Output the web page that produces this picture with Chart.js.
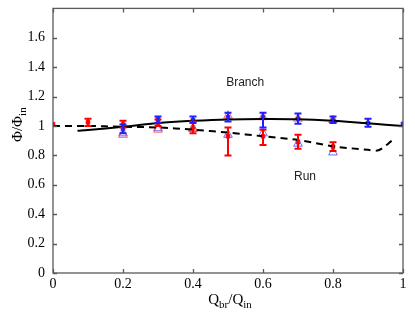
<!DOCTYPE html>
<html lang="en">
<head>
<meta charset="UTF-8">
<title>Flux ratio vs flow ratio</title>
<script src="https://cdn.jsdelivr.net/npm/chart.js@4.4.4/dist/chart.umd.min.js"></script>
<style>
  html, body { margin: 0; padding: 0; background: #fff; }
</style>
</head>
<body>
<canvas id="chart" width="415" height="315"></canvas>
<script>
// Model curves
const branchCurveX = [0.07, 0.1, 0.2, 0.3, 0.4, 0.5, 0.6, 0.7, 0.8, 0.9, 1.0];
const branchCurveY = [0.967, 0.972, 0.995, 1.02, 1.035, 1.045, 1.048, 1.046, 1.035, 1.018, 1.0];
const runCurveX = [0, 0.1, 0.2, 0.3, 0.4, 0.5, 0.6, 0.7, 0.8, 0.9, 0.93, 0.97];
const runCurveY = [1.0, 1.0, 0.995, 0.99, 0.975, 0.955, 0.93, 0.905, 0.862, 0.838, 0.835, 0.903];

// Branch measurements (blue, with error bars)
const branchExpX  = [0.2, 0.3, 0.4, 0.5, 0.6, 0.7, 0.8, 0.9, 1.0];
const branchExpY  = [0.98, 1.045, 1.04, 1.06, 1.06, 1.05, 1.045, 1.02, 1.015];
const branchExpLo = [0.95, 1.02, 1.02, 1.03, 0.99, 1.015, 1.02, 0.995, 1.015];
const branchExpHi = [1.01, 1.065, 1.065, 1.09, 1.09, 1.085, 1.065, 1.05, 1.015];

// Run measurements (red, with error bars)
const runExpX  = [0, 0.1, 0.2, 0.3, 0.4, 0.5, 0.6, 0.7, 0.8];
const runExpY  = [1.012, 1.025, 1.01, 1.02, 0.99, 0.93, 0.93, 0.89, 0.86];
const runExpLo = [1.012, 1.0, 0.99, 1.0, 0.95, 0.8, 0.87, 0.845, 0.83];
const runExpHi = [1.012, 1.05, 1.035, 1.045, 1.03, 0.99, 0.975, 0.94, 0.89];

// Simulations (open triangles)
const branchSimX = [0.2, 0.3, 0.4, 0.5, 0.6, 0.7, 0.8];
const branchSimY = [0.94, 0.975, 0.985, 1.07, 1.06, 1.05, 1.04];
const runSimX = [0.2, 0.3, 0.4, 0.5, 0.6, 0.7, 0.8];
const runSimY = [0.95, 0.985, 0.98, 0.94, 0.95, 0.88, 0.82];

const xTicks = [0, 0.2, 0.4, 0.6, 0.8, 1];
const yTicks = [0, 0.2, 0.4, 0.6, 0.8, 1, 1.2, 1.4, 1.6];

const RED = '#ff0000';
const BLUE = '#1f1fff';
const AXIS = '#5a5a5a';

function pts(xs, ys) {
    return xs.map((x, i) => ({ x: x, y: ys[i] }));
}

// error bars, drawn through the chart scales
const errorBars = {
    id: 'errorBars',
    afterDatasetsDraw(chart) {
        const { ctx, scales: { x, y } } = chart;
        const sets = [
            { xs: runExpX, lo: runExpLo, hi: runExpHi, color: RED },
            { xs: branchExpX, lo: branchExpLo, hi: branchExpHi, color: BLUE }
        ];
        ctx.save();
        ctx.lineWidth = 2;
        sets.forEach(s => {
            ctx.strokeStyle = s.color;
            s.xs.forEach((xv, i) => {
                if (s.lo[i] === s.hi[i]) return;
                const px = x.getPixelForValue(xv);
                const p1 = y.getPixelForValue(s.lo[i]);
                const p2 = y.getPixelForValue(s.hi[i]);
                ctx.beginPath();
                ctx.moveTo(px, p1); ctx.lineTo(px, p2);
                ctx.moveTo(px - 3.5, p1); ctx.lineTo(px + 3.5, p1);
                ctx.moveTo(px - 3.5, p2); ctx.lineTo(px + 3.5, p2);
                ctx.stroke();
            });
        });
        ctx.restore();
    }
};

// MATLAB-like box, inward ticks, labels and axis titles
const frame = {
    id: 'frame',
    afterDraw(chart) {
        const { ctx, chartArea: a, scales: { x, y } } = chart;
        ctx.save();
        ctx.strokeStyle = AXIS;
        ctx.lineWidth = 1.3;
        ctx.strokeRect(a.left, a.top, a.right - a.left, a.bottom - a.top);
        ctx.beginPath();
        xTicks.forEach(v => {
            const px = Math.round(x.getPixelForValue(v)) + 0.5;
            ctx.moveTo(px, a.bottom); ctx.lineTo(px, a.bottom - 4);
            ctx.moveTo(px, a.top); ctx.lineTo(px, a.top + 4);
        });
        yTicks.forEach(v => {
            const py = Math.round(y.getPixelForValue(v)) + 0.5;
            ctx.moveTo(a.left, py); ctx.lineTo(a.left + 4, py);
            ctx.moveTo(a.right, py); ctx.lineTo(a.right - 4, py);
        });
        ctx.stroke();

        // annotations
        ctx.fillStyle = '#222';
        ctx.font = '12px "Liberation Sans", Arial, sans-serif';
        ctx.textAlign = 'center';
        ctx.textBaseline = 'middle';
        ctx.fillText('Branch', x.getPixelForValue(0.549), y.getPixelForValue(1.294));
        ctx.fillText('Run', x.getPixelForValue(0.72), y.getPixelForValue(0.653));

        // x title  Q_br/Q_in
        ctx.fillStyle = '#000';
        ctx.textBaseline = 'alphabetic';
        ctx.textAlign = 'left';
        const big = '15px "Liberation Serif", "Times New Roman", serif';
        const sub = '11px "Liberation Serif", "Times New Roman", serif';
        const parts = [['Q', big, 0], ['br', sub, 4], ['/Q', big, 0], ['in', sub, 4]];
        let w = 0;
        parts.forEach(p => { ctx.font = p[1]; w += ctx.measureText(p[0]).width; });
        let cx = (a.left + a.right) / 2 - w / 2 + 2;
        const by = 304;
        parts.forEach(p => {
            ctx.font = p[1];
            ctx.fillText(p[0], cx, by + p[2]);
            cx += ctx.measureText(p[0]).width;
        });

        // y title  Φ/Φ_in
        ctx.translate(22, (a.top + a.bottom) / 2 - 16);
        ctx.rotate(-Math.PI / 2);
        const yparts = [['Φ/Φ', big, 0], ['in', sub, 4]];
        w = 0;
        yparts.forEach(p => { ctx.font = p[1]; w += ctx.measureText(p[0]).width; });
        cx = -w / 2;
        yparts.forEach(p => {
            ctx.font = p[1];
            ctx.fillText(p[0], cx, p[2]);
            cx += ctx.measureText(p[0]).width;
        });
        ctx.restore();
    }
};

const tickFont = { family: '"Liberation Serif", "Times New Roman", serif', size: 14 };

new Chart(document.getElementById('chart'), {
    type: 'scatter',
    data: {
        datasets: [
            {
                type: 'line', data: pts(branchCurveX, branchCurveY),
                borderColor: '#000', borderWidth: 2, pointRadius: 0, tension: 0.4, fill: false
            },
            {
                type: 'line', data: pts(runCurveX, runCurveY),
                borderColor: '#000', borderWidth: 2, borderDash: [7, 5], pointRadius: 0, tension: 0.3, fill: false
            },
            {
                data: pts(branchSimX, branchSimY), pointStyle: 'triangle', pointRadius: 5,
                borderColor: 'rgba(255,70,70,0.85)', backgroundColor: 'rgba(0,0,0,0)', borderWidth: 1
            },
            {
                data: pts(runSimX, runSimY), pointStyle: 'triangle', pointRadius: 5,
                borderColor: 'rgba(80,80,255,0.85)', backgroundColor: 'rgba(0,0,0,0)', borderWidth: 1
            },
            {
                data: pts(runExpX, runExpY), pointStyle: 'rect', pointRadius: 2.5,
                borderColor: RED, backgroundColor: RED, borderWidth: 1
            },
            {
                data: pts(branchExpX, branchExpY), pointStyle: 'rect', pointRadius: 2.5,
                borderColor: BLUE, backgroundColor: BLUE, borderWidth: 1
            }
        ]
    },
    options: {
        responsive: false,
        animation: false,
        layout: { padding: { top: 3, right: 12, left: 0, bottom: 0 } },
        plugins: { legend: { display: false }, tooltip: { enabled: false } },
        scales: {
            x: {
                type: 'linear', min: 0, max: 1,
                afterFit: s => { s.height = 42; },
                afterBuildTicks: s => { s.ticks = xTicks.map(v => ({ value: v })); },
                grid: { display: false }, border: { display: false },
                ticks: { font: tickFont, color: '#000', padding: -5, maxRotation: 0,
                    callback: v => String(Math.round(v * 10) / 10) }
            },
            y: {
                type: 'linear', min: 0, max: 1.8,
                afterFit: s => { s.width = 53; },
                afterBuildTicks: s => { s.ticks = yTicks.map(v => ({ value: v })); },
                grid: { display: false }, border: { display: false },
                ticks: { font: tickFont, color: '#000', padding: 0,
                    callback: v => String(Math.round(v * 10) / 10) }
            }
        }
    },
    plugins: [errorBars, frame]
});
</script>
</body>
</html>
